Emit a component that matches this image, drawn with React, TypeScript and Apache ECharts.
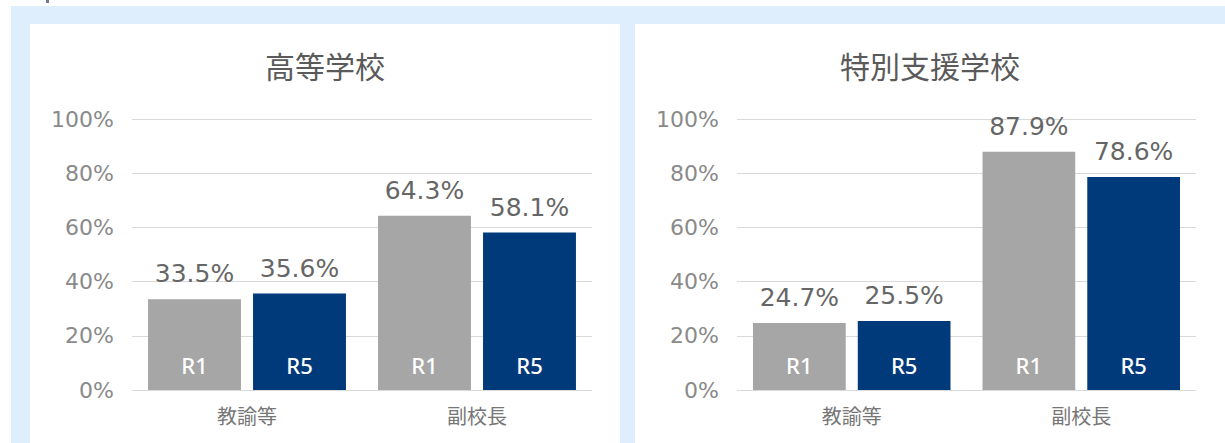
import React, { useEffect, useRef } from "react";
import * as echarts from "echarts";

const categories = ["教諭等", "副校長"];
const panelTitles = ["高等学校", "特別支援学校"];
const seriesNames = ["R1", "R5"];
const highSchoolR1 = [33.5, 64.3];
const highSchoolR5 = [35.6, 58.1];
const specialSchoolR1 = [24.7, 87.9];
const specialSchoolR5 = [25.5, 78.6];
const yTickMax = 100;
const yTickStep = 20;

const GRAY = "#a6a6a6";
const NAVY = "#003a7a";
const NUM_FONT = "DejaVu Sans";
const CJK_FONT = "Noto Sans CJK JP";

export default function App() {
  const ref = useRef<HTMLDivElement>(null);

  useEffect(() => {
    if (!ref.current) return;
    const chart = echarts.init(ref.current, null, { renderer: "svg" });

    const panels = [
      { data: [highSchoolR1, highSchoolR5], left: 132, width: 460, center: 325 },
      { data: [specialSchoolR1, specialSchoolR5], left: 737, width: 459, center: 930 },
    ];
    const colors = [GRAY, NAVY];

    const grids = panels.map((p) => ({
      left: p.left,
      width: p.width,
      top: 119,
      bottom: 53,
    }));

    const xAxes: any[] = [];
    const yAxes: any[] = [];
    const series: any[] = [];

    panels.forEach((p, g) => {
      xAxes.push({
        type: "category",
        gridIndex: g,
        data: categories,
        axisLine: { show: false },
        axisTick: { show: false },
        axisLabel: {
          margin: 15,
          fontSize: 20,
          color: "#767676",
          fontFamily: CJK_FONT,
        },
      });
      xAxes.push({
        type: "category",
        gridIndex: g,
        data: categories,
        show: false,
      });
      yAxes.push({
        type: "value",
        gridIndex: g,
        min: 0,
        max: yTickMax,
        interval: yTickStep,
        axisLine: { show: false },
        axisTick: { show: false },
        splitLine: { lineStyle: { color: "#d9d9d9", width: 1 } },
        axisLabel: {
          formatter: "{value}%",
          margin: 18,
          fontSize: 22,
          color: "#8a8a8a",
          fontFamily: NUM_FONT,
        },
      });
      p.data.forEach((vals, i) => {
        series.push({
          type: "bar",
          name: seriesNames[i],
          xAxisIndex: g * 2,
          yAxisIndex: g,
          data: vals,
          barWidth: "40.4%",
          barGap: "13%",
          itemStyle: { color: colors[i] },
          emphasis: { disabled: true },
          label: {
            show: true,
            position: "top",
            distance: 13,
            fontSize: 25,
            color: "#666666",
            fontFamily: NUM_FONT,
            formatter: (q: any) => Number(q.value).toFixed(1) + "%",
          },
        });
      });
      p.data.forEach((vals, i) => {
        series.push({
          type: "bar",
          name: seriesNames[i] + "-label",
          xAxisIndex: g * 2 + 1,
          yAxisIndex: g,
          data: vals,
          barWidth: "40.4%",
          barGap: "13%",
          silent: true,
          itemStyle: { color: "rgba(0,0,0,0)" },
          emphasis: { disabled: true },
          label: {
            show: true,
            position: "insideBottom",
            distance: 14,
            fontSize: 22,
            fontWeight: 500,
            color: "#ffffff",
            fontFamily: "Noto Sans",
            formatter: seriesNames[i],
          },
        });
      });
    });

    chart.setOption({
      animation: false,
      grid: grids,
      xAxis: xAxes,
      yAxis: yAxes,
      series,
      graphic: panels.map((p, g) => ({
        type: "text",
        x: p.center,
        y: 65,
        style: {
          text: panelTitles[g],
          textAlign: "center",
          textVerticalAlign: "middle",
          fontSize: 30,
          fill: "#5a5a5a",
          fontFamily: CJK_FONT,
        },
      })),
    });

    return () => chart.dispose();
  }, []);

  return (
    <div
      style={{
        position: "absolute",
        left: 0,
        top: 0,
        width: 1225,
        height: 443,
        background: "#ffffff",
        overflow: "hidden",
      }}
    >
      <div
        style={{
          position: "absolute",
          left: 46,
          top: 0,
          width: 3,
          height: 3,
          background: "#6f7c8e",
        }}
      />
      <div
        style={{
          position: "absolute",
          left: 11,
          top: 6,
          width: 1214,
          height: 437,
          background: "#deeefd",
        }}
      />
      <div
        style={{
          position: "absolute",
          left: 30,
          top: 24,
          width: 590,
          height: 419,
          background: "#ffffff",
        }}
      />
      <div
        style={{
          position: "absolute",
          left: 635,
          top: 24,
          width: 590,
          height: 419,
          background: "#ffffff",
        }}
      />
      <div
        ref={ref}
        style={{ position: "absolute", left: 0, top: 0, width: 1225, height: 443 }}
      />
    </div>
  );
}
